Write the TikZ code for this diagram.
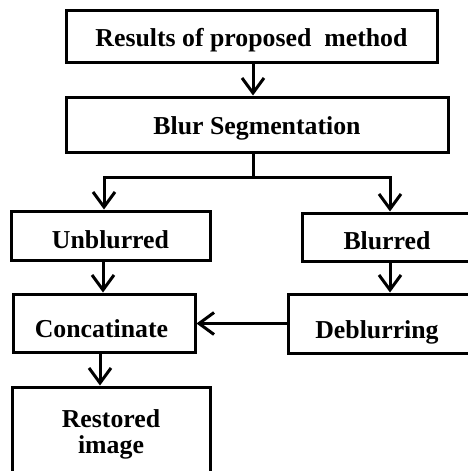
\documentclass[tikz,border=0pt]{standalone}
\usepackage{fontspec}
\setmainfont{Liberation Serif}
\usetikzlibrary{arrows.meta}
\tikzset{
  box/.style={draw, line width=3pt, inner sep=0pt, align=center,
    font=\fontsize{25.8}{29}\selectfont\bfseries, text depth=0pt},
  conn/.style={line width=3pt, -{Straight Barb[length=15pt,width=22pt]}},
  seg/.style={line width=3pt}
}
\begin{document}
\begin{tikzpicture}[x=1pt,y=-1pt]
\useasboundingbox (0,0) rectangle (468,471);
\clip (0,0) rectangle (468,471);
\node[box, text height=20pt, minimum width=371pt, minimum height=52pt] (res) at (251.5,36) {Results of proposed\ \ method};
\node[box, text height=20pt, minimum width=382pt, minimum height=55pt] (seg) at (257,124.5) {Blur Segmentation};
\node[box, text height=26pt, minimum width=199pt, minimum height=49pt] (unb) at (110.5,235.5) {Unblurred};
\node[box, text height=25pt, minimum width=170pt, minimum height=48pt] (blu) at (387,237) {Blurred};
\node[box, text height=28pt, minimum width=182pt, minimum height=58pt] (con) at (104,323) {Concatinate\hspace*{5pt}};
\node[box, text height=29pt, minimum width=188pt, minimum height=59pt] (deb) at (382,323.5) {Deblurring\hspace*{10pt}};
\node[box, text depth=-4pt, minimum width=198pt, minimum height=90pt] (rst) at (111,432) {Restored\\[-3pt]image};
\coordinate (split) at (253,177);
\coordinate (sl) at (104,177);
\coordinate (sr) at (390,177);
\draw[conn] (res.south -| split) -- (seg.north -| split);
\draw[seg] (seg.south -| split) -- (split);
\draw[seg, line cap=rect] (sl) -- (sr);
\draw[conn] (sl) -- (unb.north -| sl);
\draw[conn] (sr) -- (blu.north -| sr);
\draw[conn] (unb.south -| 103,0) -- (con.north -| 103,0);
\draw[conn] (blu.south -| sr) -- (deb.north -| sr);
\draw[conn] (deb.west) -- (con.east |- deb.west);
\draw[conn] (con.south -| 100,0) -- (rst.north -| 100,0);
\end{tikzpicture}
\end{document}
